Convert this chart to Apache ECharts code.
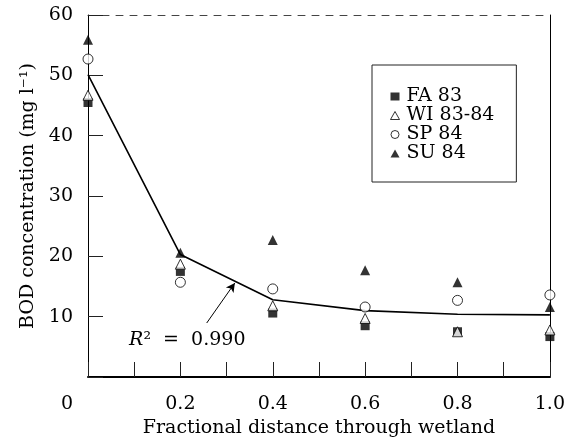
<!DOCTYPE html>
<html>
<head>
<meta charset="utf-8">
<script src="https://cdn.jsdelivr.net/npm/echarts@6/dist/echarts.min.js"></script>
<style>
html,body{margin:0;padding:0;background:#fff;}
#c{width:568px;height:445px;}
</style>
</head>
<body>
<div id="c"></div>
<script>
var xPositions = [0, 0.2, 0.4, 0.6, 0.8, 1.0];
var fa83   = [45.5, 17.5, 10.6, 8.5, 7.5, 6.7];
var wi8384 = [46.7, 18.7, 11.8, 9.7, 7.5, 7.8];
var sp84   = [52.7, 15.7, 14.6, 11.6, 12.7, 13.6];
var su84   = [55.9, 20.6, 22.7, 17.7, 15.7, 11.6];
var fitLine = [50.1, 20.3, 12.8, 11.0, 10.4, 10.3];
var seriesNames = ['FA 83', 'WI 83-84', 'SP 84', 'SU 84'];
var xTickLabels = {0: '0', 0.2: '0.2', 0.4: '0.4', 0.6: '0.6', 0.8: '0.8', 1: '1.0'};
var arrowFrom = [0.257, 8.95];
var arrowTo = [0.318, 15.6];
var r2Pos = [0.215, 6.1];
var r2Value = '0.990';

function pairs(ys) { return xPositions.map(function (x, i) { return [x, ys[i]]; }); }

var FONT = 'DejaVu Serif';
var FS = 19;
var chart = echarts.init(document.getElementById('c'), null, {renderer: 'canvas'});

var openStyle = {color: '#fff', borderColor: '#000', borderWidth: 1};
var filledStyle = {color: '#000', borderColor: '#000', borderWidth: 0};

var option = {
  backgroundColor: '#fff',
  animation: false,
  textStyle: {fontFamily: FONT, color: '#000'},
  grid: {left: 88, right: 17, top: 15, bottom: 68},
  legend: {
    orient: 'vertical',
    left: 372, top: 65,
    padding: [22, 22, 19, 18],
    itemGap: 0,
    itemWidth: 9, itemHeight: 8,
    borderColor: '#222', borderWidth: 1,
    textStyle: {fontFamily: FONT, fontSize: FS, color: '#000', padding: [0, 0, 0, 2]},
    data: [
      {name: seriesNames[0], icon: 'rect', itemStyle: filledStyle},
      {name: seriesNames[1], icon: 'triangle', itemStyle: openStyle},
      {name: seriesNames[2], icon: 'circle', itemStyle: openStyle},
      {name: seriesNames[3], icon: 'triangle', itemStyle: filledStyle}
    ]
  },
  xAxis: [{
    type: 'value', min: 0, max: 1, interval: 0.2,
    name: 'Fractional distance through wetland',
    nameLocation: 'middle', nameGap: 42,
    nameTextStyle: {fontFamily: FONT, fontSize: FS, color: '#000'},
    axisLine: {show: true, onZero: false, lineStyle: {color: '#000', width: 2}},
    axisTick: {show: true, inside: true, length: 15, lineStyle: {color: '#222', width: 1}},
    minorTick: {show: true, splitNumber: 2, length: 15, lineStyle: {color: '#222', width: 1}},
    splitLine: {show: false},
    axisLabel: {
      margin: 18, fontFamily: FONT, fontSize: FS, color: '#000',
      formatter: function (v) {
        var k = Math.round(v * 10) / 10;
        var t = xTickLabels[k];
        return k === 0 ? '{z|' + t + '}' : t;
      },
      rich: {z: {fontFamily: FONT, fontSize: FS, color: '#000', padding: [0, 42, 0, 0]}}
    }
  }, {
    type: 'value', min: 0, max: 1, position: 'top',
    axisLine: {show: true, onZero: false, lineStyle: {color: '#444', width: 1, type: [7, 7]}},
    axisTick: {show: false}, axisLabel: {show: false}, splitLine: {show: false}
  }],
  yAxis: [{
    type: 'value', min: 0, max: 60, interval: 10,
    name: 'BOD concentration (mg l\u207B\u00B9)',
    nameLocation: 'middle', nameGap: 50,
    nameTextStyle: {fontFamily: FONT, fontSize: FS, color: '#000'},
    axisLine: {show: true, onZero: false, lineStyle: {color: '#000', width: 1}},
    axisTick: {show: true, inside: true, length: 15, lineStyle: {color: '#222', width: 1}},
    splitLine: {show: false},
    axisLabel: {
      margin: 15, fontFamily: FONT, fontSize: FS, color: '#000',
      formatter: function (v) { return v === 0 ? '' : String(v); }
    }
  }, {
    type: 'value', min: 0, max: 60, position: 'right',
    axisLine: {show: true, onZero: false, lineStyle: {color: '#000', width: 1}},
    axisTick: {show: false}, axisLabel: {show: false}, splitLine: {show: false}
  }],
  series: [
    {
      name: 'fit', type: 'line', data: pairs(fitLine), symbol: 'none',
      lineStyle: {color: '#000', width: 1.6}, z: 1, legendHoverLink: false,
      markLine: {
        silent: true, symbol: ['none', 'arrow'], symbolSize: [7, 9],
        lineStyle: {color: '#000', width: 1, type: 'solid'},
        label: {show: false},
        data: [[{coord: arrowFrom}, {coord: arrowTo}]]
      },
      markPoint: {
        silent: true, symbol: 'rect', symbolSize: 0,
        data: [{coord: r2Pos}],
        label: {
          show: true, position: 'inside',
          formatter: '{i|R}{n|\u00B2  =  ' + r2Value + '}',
          rich: {
            i: {fontFamily: FONT, fontStyle: 'italic', fontSize: FS, color: '#000'},
            n: {fontFamily: FONT, fontSize: FS, color: '#000'}
          }
        }
      }
    },
    {name: seriesNames[0], type: 'scatter', data: pairs(fa83), symbol: 'rect', symbolSize: 9, itemStyle: filledStyle, z: 3},
    {name: seriesNames[1], type: 'scatter', data: pairs(wi8384), symbol: 'triangle', symbolSize: 10, itemStyle: openStyle, z: 4},
    {name: seriesNames[2], type: 'scatter', data: pairs(sp84), symbol: 'circle', symbolSize: 10, itemStyle: openStyle, z: 3},
    {name: seriesNames[3], type: 'scatter', data: pairs(su84), symbol: 'triangle', symbolSize: 10, itemStyle: filledStyle, z: 3}
  ]
};
chart.setOption(option);
</script>
</body>
</html>
